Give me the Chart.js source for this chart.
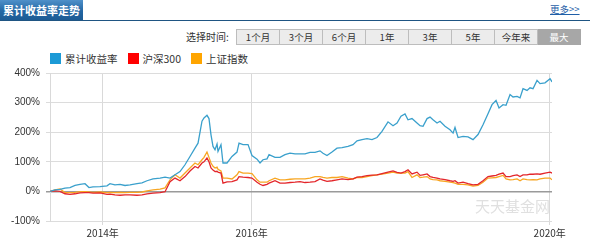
<!DOCTYPE html>
<html>
<head>
<meta charset="utf-8">
<script src="https://cdn.jsdelivr.net/npm/chart.js@4.4.1/dist/chart.umd.min.js"></script>
<style>
    body { margin: 0; width: 590px; height: 244px; overflow: hidden; background: #fff;
        font-family: "Noto Sans CJK SC", "Noto Sans", sans-serif; color: #333; }
    #wrap { position: relative; width: 590px; height: 244px; }
    .tab { position: absolute; left: 0; top: 0; width: 83px; height: 20px; white-space: nowrap;
        background: linear-gradient(#4f90c9, #2367a4 55%, #1d5b94); color: #fff;
        font-size: 11px; font-weight: bold; line-height: 20px; padding-left: 3px; box-sizing: border-box; }
    .topline { position: absolute; left: 0; top: 20px; width: 590px; height: 1px; background: #1f5583; }
    .more { position: absolute; left: 550px; top: 2px; font-size: 9.5px; color: #1f5fa8; text-decoration: underline; }
    .sel-label { position: absolute; left: 186px; top: 29px; font-size: 10px; line-height: 15px; }
    .btns { position: absolute; left: 236px; top: 29px; display: flex; }
    .btns span { width: 42px; height: 14px; border: 1px solid #bdbdbd; border-left: none; background: #ececec;
        font-size: 9.5px; line-height: 14px; text-align: center; }
    .btns span:first-child { border-left: 1px solid #bdbdbd; }
    .btns span.on { background: #a7a7a7; border-color: #a7a7a7; color: #fff; }
    .legend { position: absolute; left: 50px; top: 53px; display: flex; font-size: 10.5px; line-height: 12px; }
    .legend i { display: inline-block; width: 11px; height: 11px; margin-right: 4px; vertical-align: top; }
    .legend div { margin-right: 10px; }
    .mark { position: absolute; left: 475px; top: 195px; font-size: 15px; color: #e0e0e0; }
    #box { position: absolute; left: 0; top: 60px; width: 590px; height: 184px; }
</style>
</head>
<body>
<div id="wrap">
    <div class="tab">累计收益率走势</div>
    <div class="topline"></div>
    <div class="more">更多&gt;&gt;</div>
    <div class="sel-label">选择时间:</div>
    <div class="btns">
        <span>1个月</span><span>3个月</span><span>6个月</span><span>1年</span><span>3年</span><span>5年</span><span>今年来</span><span class="on">最大</span>
    </div>
    <div class="legend">
        <div><i style="background:#1c9ad6"></i>累计收益率</div>
        <div><i style="background:#f00"></i>沪深300</div>
        <div><i style="background:#ffa500"></i>上证指数</div>
    </div>
    <div id="box"><canvas id="trendChart"></canvas></div>
    <div class="mark">天天基金网</div>
</div>
<script>
// dates as fractional years
const dates = [2013.293, 2013.360, 2013.427, 2013.494, 2013.561, 2013.629, 2013.696, 2013.763, 2013.816, 2013.870,
    2013.964, 2014.058, 2014.098, 2014.165, 2014.233, 2014.300, 2014.367, 2014.461, 2014.528, 2014.595,
    2014.676, 2014.770, 2014.837, 2014.904, 2014.971, 2015.038, 2015.105, 2015.172, 2015.239, 2015.280,
    2015.333, 2015.360, 2015.400, 2015.427, 2015.454, 2015.481, 2015.508, 2015.535, 2015.548, 2015.588,
    2015.615, 2015.669, 2015.736, 2015.803, 2015.830, 2015.884, 2015.951, 2016.004, 2016.072, 2016.112,
    2016.152, 2016.206, 2016.233, 2016.313, 2016.380, 2016.447, 2016.515, 2016.582, 2016.649, 2016.716,
    2016.783, 2016.850, 2016.917, 2016.957, 2017.011, 2017.078, 2017.145, 2017.213, 2017.293, 2017.360,
    2017.414, 2017.481, 2017.548, 2017.615, 2017.682, 2017.749, 2017.830, 2017.897, 2017.951, 2018.004,
    2018.058, 2018.098, 2018.152, 2018.219, 2018.260, 2018.300, 2018.354, 2018.394, 2018.434, 2018.488,
    2018.528, 2018.595, 2018.662, 2018.703, 2018.729, 2018.770, 2018.837, 2018.904, 2018.971, 2019.038,
    2019.105, 2019.172, 2019.226, 2019.280, 2019.320, 2019.374, 2019.414, 2019.468, 2019.508, 2019.562,
    2019.602, 2019.642, 2019.696, 2019.736, 2019.776, 2019.830, 2019.870, 2019.937, 2020.005, 2020.031];

// 累计收益率 (%)
const fundReturn = [0, 5, 7, 11, 13, 20, 24, 26, 13, 15,
    16, 19, 26, 22, 24, 20, 22, 26, 29, 36,
    42, 45, 48, 45, 56, 67, 90, 118, 146, 163,
    237, 248, 257, 246, 191, 152, 141, 160, 135, 158,
    96, 96, 118, 133, 163, 158, 158, 121, 109, 96,
    107, 110, 124, 115, 115, 124, 129, 127, 127, 127,
    132, 132, 137, 129, 121, 133, 146, 148, 152, 158,
    171, 175, 178, 175, 182, 203, 235, 222, 231, 254,
    262, 242, 246, 231, 222, 220, 246, 251, 242, 231,
    237, 220, 208, 197, 216, 182, 186, 184, 175, 192,
    225, 262, 293, 307, 282, 293, 291, 327, 319, 321,
    316, 347, 341, 350, 347, 375, 364, 367, 381, 370];

// 沪深300 (%)
const hs300 = [0, 2, 0, -8, -10, -8, -5, -4, -4, -6,
    -5, -10, -9, -12, -13, -12, -12, -13, -12, -8,
    -6, -4, -1, 33, 45, 36, 50, 69, 84, 79,
    96, 100, 113, 100, 79, 72, 67, 68, 65, 62,
    28, 32, 33, 39, 50, 48, 47, 45, 31, 24,
    20, 24, 28, 36, 28, 28, 30, 31, 33, 30,
    31, 33, 42, 38, 34, 36, 39, 42, 40, 42,
    48, 50, 53, 55, 56, 60, 65, 69, 64, 62,
    67, 73, 59, 65, 54, 56, 59, 50, 47, 45,
    42, 40, 36, 34, 36, 28, 31, 26, 22, 24,
    36, 50, 52, 54, 58, 62, 50, 50, 53, 56,
    50, 56, 56, 58, 58, 59, 58, 62, 65, 62];

// 上证指数 (%)
const shIndex = [0, 5, 8, -4, -4, -3, -1, -1, -2, -3,
    -2, -4, -3, -4, -3, -4, -3, -3, -2, 2,
    5, 8, 12, 39, 56, 45, 62, 79, 96, 90,
    107, 115, 133, 115, 96, 85, 79, 82, 75, 69,
    45, 45, 42, 56, 67, 62, 62, 60, 39, 31,
    31, 31, 36, 45, 39, 39, 41, 42, 42, 42,
    45, 50, 50, 47, 45, 47, 47, 50, 45, 42,
    47, 47, 50, 53, 56, 58, 62, 65, 62, 62,
    62, 67, 47, 56, 47, 48, 50, 42, 40, 39,
    36, 34, 31, 30, 28, 24, 24, 22, 18, 20,
    31, 45, 46, 47, 50, 54, 42, 39, 40, 42,
    36, 42, 40, 39, 40, 39, 42, 45, 45, 39];

const yearTicks = [2014, 2016, 2020];
const yTicks = [-100, 0, 100, 200, 300, 400];

function toPoints(values) {
    return values.map((v, i) => ({ x: dates[i], y: v }));
}

document.addEventListener('DOMContentLoaded', function() {
    const ctx = document.getElementById('trendChart').getContext('2d');
    new Chart(ctx, {
        type: 'line',
        data: {
            datasets: [{
                label: '累计收益率',
                data: toPoints(fundReturn),
                borderColor: '#3aa0cc',
                borderWidth: 1.3
            }, {
                label: '沪深300',
                data: toPoints(hs300),
                borderColor: '#e3262b',
                borderWidth: 1.3
            }, {
                label: '上证指数',
                data: toPoints(shIndex),
                borderColor: '#f8a622',
                borderWidth: 1.3
            }]
        },
        options: {
            responsive: true,
            maintainAspectRatio: false,
            animation: false,
            elements: { point: { radius: 0 }, line: { tension: 0 } },
            layout: { padding: { top: 13, right: 38, left: 0, bottom: 0 } },
            plugins: {
                legend: { display: false },
                tooltip: { enabled: false }
            },
            scales: {
                x: {
                    type: 'linear',
                    min: dates[0],
                    max: dates[dates.length - 1],
                    afterBuildTicks: function(axis) {
                        axis.ticks = yearTicks.map(v => ({ value: v }));
                    },
                    afterFit: function(axis) { axis.height = 23; },
                    grid: { color: '#d9d9d9', tickLength: 4, drawTicks: true },
                    border: { display: false },
                    ticks: {
                        padding: 2,
                        maxRotation: 0,
                        autoSkip: false,
                        color: '#333',
                        font: { size: 10, family: '"Noto Sans CJK SC", sans-serif' },
                        callback: function(value) { return value + '年'; }
                    }
                },
                y: {
                    min: -100,
                    max: 400,
                    afterBuildTicks: function(axis) {
                        axis.ticks = yTicks.map(v => ({ value: v }));
                    },
                    afterFit: function(axis) { axis.width = 50; },
                    grid: {
                        tickLength: 4,
                        color: function(c) { return c.tick && c.tick.value === 0 ? '#9a9a9a' : '#dcdcdc'; },
                        lineWidth: function(c) { return c.tick && c.tick.value === 0 ? 1.5 : 1; }
                    },
                    border: { display: true, color: '#d9d9d9' },
                    ticks: {
                        padding: 6,
                        color: '#333',
                        font: { size: 10, family: '"Liberation Sans", Arial, sans-serif' },
                        callback: function(value) { return value + '%'; }
                    }
                }
            }
        }
    });
});
</script>
</body>
</html>
